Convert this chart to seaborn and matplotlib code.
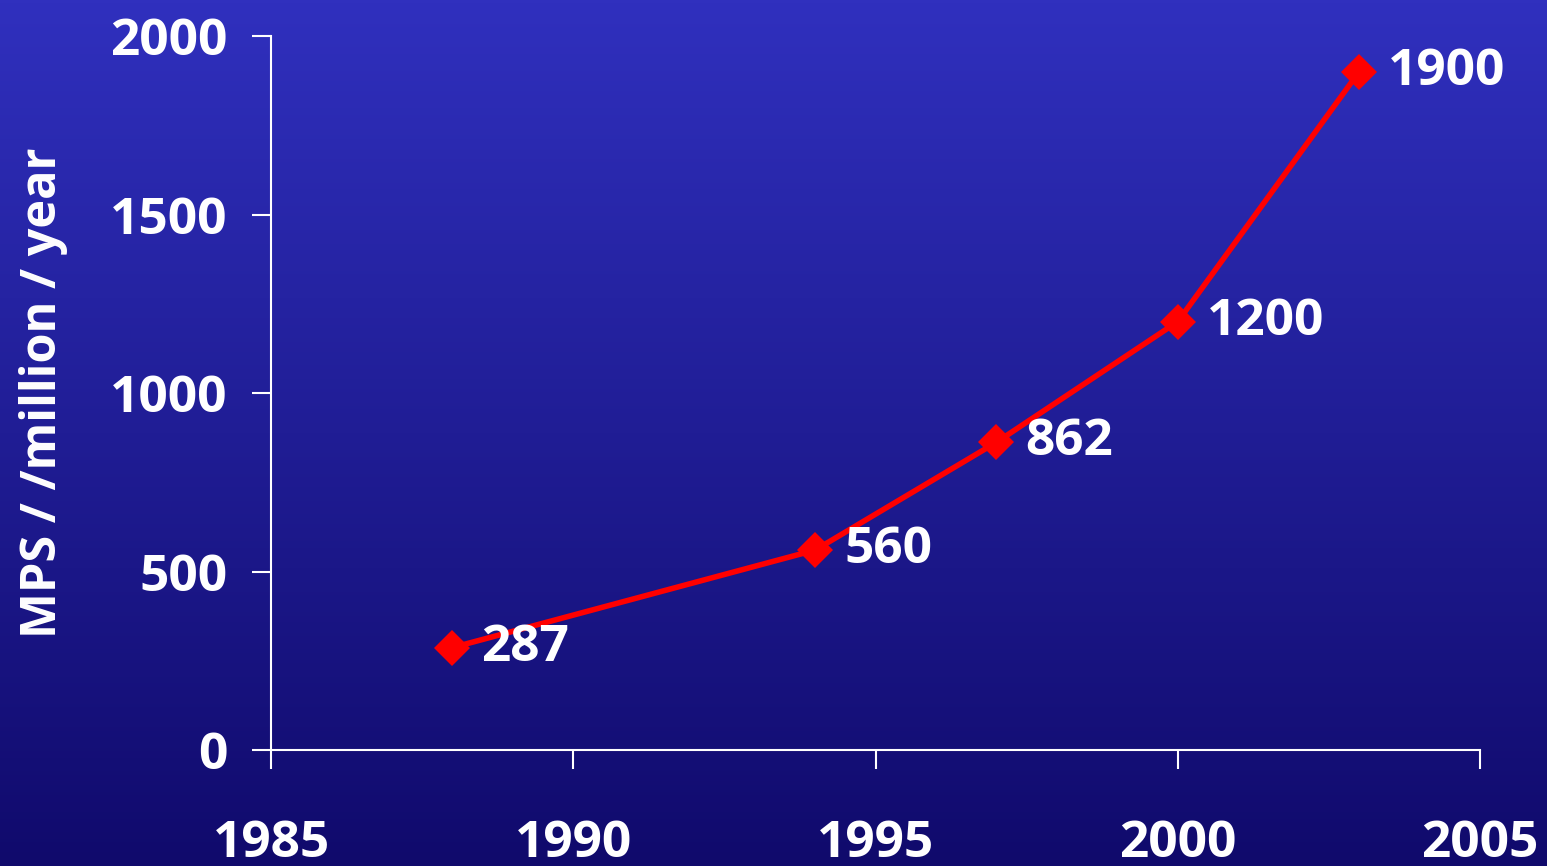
import numpy as np
import pandas as pd
import matplotlib
matplotlib.use("Agg")
import matplotlib.pyplot as plt
import seaborn as sns

years = [1988, 1994, 1997, 2000, 2003]
mps_rate = [287, 560, 862, 1200, 1900]
x_ticks = [1985, 1990, 1995, 2000, 2005]
y_ticks = [0, 500, 1000, 1500, 2000]
y_label = "MPS / /million / year"

sns.set_style("ticks")
plt.rcParams["font.family"] = ["Open Sans", "DejaVu Sans"]
plt.rcParams["font.weight"] = "bold"

df = pd.DataFrame({"year": years, "rate": mps_rate})

fig = plt.figure(figsize=(15.47, 8.66), dpi=100)

# vertical blue gradient background
bg = fig.add_axes([0, 0, 1, 1], zorder=-10)
top = np.array([0x30, 0x30, 0xBE]) / 255
bottom = np.array([0x10, 0x0A, 0x6C]) / 255
t = np.linspace(0, 1, 256)[:, None]
grad = top * (1 - t) + bottom * t
bg.imshow(grad[:, None, :].repeat(2, axis=1), aspect="auto", extent=[0, 1, 0, 1])
bg.set_axis_off()

ax = fig.add_axes([0.1752, 0.1339, 0.9567 - 0.1752, 0.9584 - 0.1339])
ax.patch.set_alpha(0)

sns.lineplot(data=df, x="year", y="rate", ax=ax, color="#FF0000", linewidth=4,
             marker="D", markersize=18, markeredgewidth=0, markerfacecolor="#FF0000")

for x, y in zip(years, mps_rate):
    ax.annotate(f"{y}", (x, y), xytext=(21, 0), textcoords="offset points",
                ha="left", va="center", color="white", fontsize=37, fontweight="bold")

ax.set_xlim(1985, 2005)
ax.set_ylim(0, 2000)
ax.set_xticks(x_ticks)
ax.set_yticks(y_ticks)
ax.tick_params(axis="both", colors="white", labelcolor="white", width=1.5,
               length=13.5, labelsize=37)
ax.tick_params(axis="x", pad=36)
ax.tick_params(axis="y", pad=18)
for lab in ax.get_xticklabels() + ax.get_yticklabels():
    lab.set_fontweight("bold")

for side in ("top", "right"):
    ax.spines[side].set_visible(False)
for side in ("left", "bottom"):
    ax.spines[side].set_color("white")
    ax.spines[side].set_linewidth(1.5)

ax.set_xlabel("")
ax.set_ylabel(y_label, color="white", fontsize=35, fontweight="bold")
ax.yaxis.set_label_coords(-0.168, 0.5)

fig.savefig("out.png", dpi=100)
